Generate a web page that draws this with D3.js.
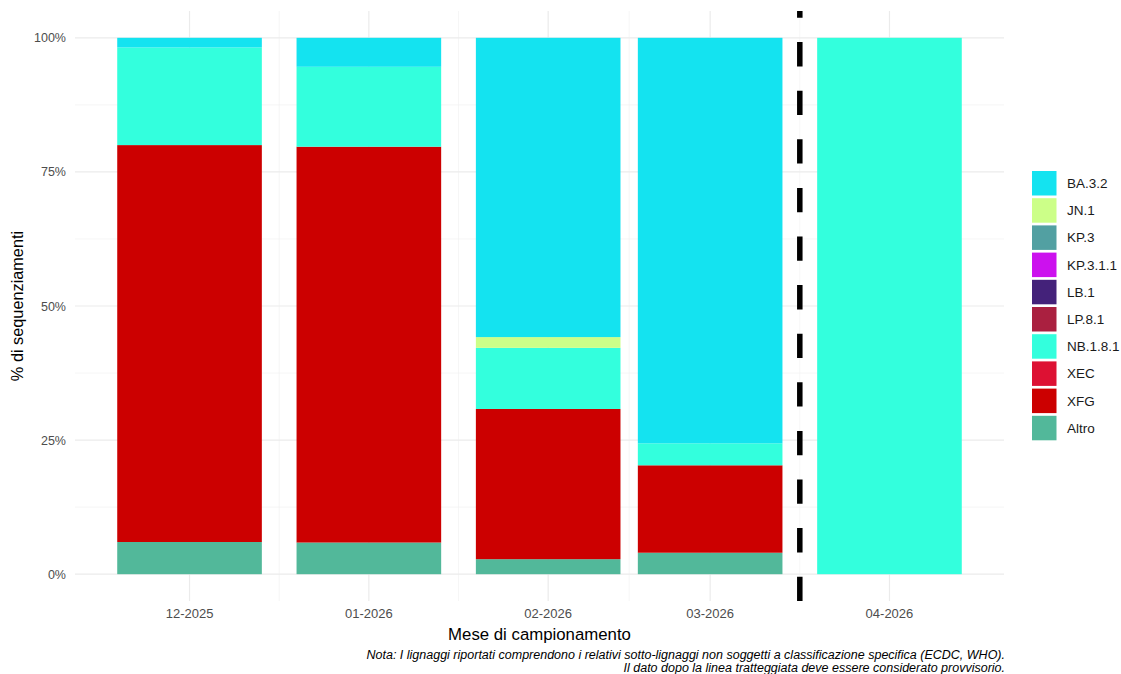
<!DOCTYPE html>
<html>
<head>
<meta charset="utf-8">
<script src="https://cdn.jsdelivr.net/npm/d3@7"></script>
<style>
  body { margin: 0; background: #fff; }
  svg text { font-family: "Liberation Sans", Arial, sans-serif; }
</style>
</head>
<body>
<script>
"use strict";

// months of sampling (first day of month)
var months = ["2025-12-01", "2026-01-01", "2026-02-01", "2026-03-01", "2026-04-01"];

// lineages, in legend order
var lineages = ["BA.3.2", "JN.1", "KP.3", "KP.3.1.1", "LB.1", "LP.8.1", "NB.1.8.1", "XEC", "XFG", "Altro"];
var lineageColors = ["#14e3f0", "#ccff88", "#52a0a2", "#cc11ee", "#44227a", "#aa2040", "#33ffdd", "#dd1133", "#cc0000", "#52b89a"];

// % of sequencing per month
var pctBA32   = [1.8, 5.4, 55.8, 75.6, 0];
var pctJN1    = [0, 0, 2.0, 0, 0];
var pctKP3    = [0, 0, 0, 0, 0];
var pctKP311  = [0, 0, 0, 0, 0];
var pctLB1    = [0, 0, 0, 0, 0];
var pctLP81   = [0, 0, 0, 0, 0];
var pctNB181  = [18.2, 14.9, 11.4, 4.1, 100];
var pctXEC    = [0, 0, 0, 0, 0];
var pctXFG    = [74.0, 73.8, 28.0, 16.3, 0];
var pctAltro  = [6.0, 5.9, 2.8, 4.0, 0];

var yTicks = [0, 0.25, 0.5, 0.75, 1];
var yMinor = [0.125, 0.375, 0.625, 0.875];

// data after this date is provisional
var provisionalAfter = "2026-03-16T12:00:00Z";

var caption = [
    "Nota: I lignaggi riportati comprendono i relativi sotto-lignaggi non soggetti a classificazione specifica (ECDC, WHO).",
    "Il dato dopo la linea tratteggiata deve essere considerato provvisorio."
];

function main(){
    var W = 1121, H = 674;
    var panel = {left: 75, right: 1004, top: 11, bottom: 601};
    var barDays = 25;
    var dayMs = 86400000;

    var byLineage = {
        "BA.3.2": pctBA32, "JN.1": pctJN1, "KP.3": pctKP3, "KP.3.1.1": pctKP311, "LB.1": pctLB1,
        "LP.8.1": pctLP81, "NB.1.8.1": pctNB181, "XEC": pctXEC, "XFG": pctXFG, "Altro": pctAltro
    };
    var dates = months.map(function(m){ return new Date(m + "T00:00:00Z"); });
    var rows = dates.map(function(d, i){
        var r = {date: d};
        lineages.forEach(function(l){ r[l] = byLineage[l][i] / 100; });
        return r;
    });

    var svg = d3.select("body").append("svg").attr("width", W).attr("height", H);

    // time axis, bars 25 days wide, 5% expansion like ggplot
    var lo = +dates[0] - barDays / 2 * dayMs, hi = +dates[dates.length - 1] + barDays / 2 * dayMs;
    var pad = (hi - lo) * 0.05;
    var x = d3.scaleUtc().domain([new Date(lo - pad), new Date(hi + pad)]).range([panel.left, panel.right]);
    var y = d3.scaleLinear().domain([-0.05, 1.05]).range([panel.bottom, panel.top]);
    var color = d3.scaleOrdinal().domain(lineages).range(lineageColors);

    // grid
    var grid = svg.append("g");
    var xMinor = [];
    for (var i = 0; i < dates.length - 1; i++) xMinor.push(new Date((+dates[i] + +dates[i + 1]) / 2));
    grid.selectAll(".hmin").data(yMinor).enter().append("line")
        .attr("x1", panel.left).attr("x2", panel.right)
        .attr("y1", function(d){ return y(d); }).attr("y2", function(d){ return y(d); })
        .attr("stroke", "#f0f0f0").attr("stroke-width", 0.6);
    grid.selectAll(".vmin").data(xMinor).enter().append("line")
        .attr("x1", function(d){ return x(d); }).attr("x2", function(d){ return x(d); })
        .attr("y1", panel.top).attr("y2", panel.bottom)
        .attr("stroke", "#f0f0f0").attr("stroke-width", 0.6);
    grid.selectAll(".hmaj").data(yTicks).enter().append("line")
        .attr("x1", panel.left).attr("x2", panel.right)
        .attr("y1", function(d){ return y(d); }).attr("y2", function(d){ return y(d); })
        .attr("stroke", "#ebebeb").attr("stroke-width", 1.2);
    grid.selectAll(".vmaj").data(dates).enter().append("line")
        .attr("x1", function(d){ return x(d); }).attr("x2", function(d){ return x(d); })
        .attr("y1", panel.top).attr("y2", panel.bottom)
        .attr("stroke", "#ebebeb").attr("stroke-width", 1.2);

    // stacked bars (Altro at the bottom)
    var stack = d3.stack().keys(lineages.slice().reverse());
    var series = stack(rows);
    var halfBar = barDays / 2 * dayMs;
    svg.append("g").selectAll("g").data(series).enter().append("g")
        .attr("fill", function(s){ return color(s.key); })
        .selectAll("rect").data(function(s){ return s; }).enter().append("rect")
        .attr("x", function(d){ return x(new Date(+d.data.date - halfBar)); })
        .attr("width", function(d){ return x(new Date(+d.data.date + halfBar)) - x(new Date(+d.data.date - halfBar)); })
        .attr("y", function(d){ return y(d[1]); })
        .attr("height", function(d){ return y(d[0]) - y(d[1]); });

    // provisional line
    var px = x(new Date(provisionalAfter));
    svg.append("line")
        .attr("x1", px).attr("x2", px).attr("y1", panel.bottom).attr("y2", panel.top)
        .attr("stroke", "#000").attr("stroke-width", 5.5)
        .attr("stroke-dasharray", "24.3,24.3");

    // axes labels
    var fmt = d3.utcFormat("%m-%Y");
    svg.append("g").selectAll("text").data(dates).enter().append("text")
        .attr("x", function(d){ return x(d); }).attr("y", 618)
        .attr("text-anchor", "middle").attr("font-size", 13).attr("fill", "#4d4d4d")
        .text(fmt);
    svg.append("g").selectAll("text").data(yTicks).enter().append("text")
        .attr("x", 66).attr("y", function(d){ return y(d) + 4.5; })
        .attr("text-anchor", "end").attr("font-size", 12.5).attr("fill", "#4d4d4d")
        .text(d3.format(".0%"));

    svg.append("text").attr("x", (panel.left + panel.right) / 2).attr("y", 639.5)
        .attr("text-anchor", "middle").attr("font-size", 16.8).attr("fill", "#000")
        .text("Mese di campionamento");
    svg.append("text")
        .attr("transform", "translate(23," + ((panel.top + panel.bottom) / 2) + ") rotate(-90)")
        .attr("text-anchor", "middle").attr("font-size", 16.3).attr("fill", "#000")
        .text("% di sequenziamenti");

    // caption
    svg.append("g").selectAll("text").data(caption).enter().append("text")
        .attr("x", panel.right + 1).attr("y", function(d, i){ return 658.5 + i * 13; })
        .attr("text-anchor", "end").attr("font-size", 12.5).attr("font-style", "italic").attr("fill", "#000")
        .text(function(d){ return d; });

    // legend
    var legend = svg.append("g").attr("transform", "translate(1032,171)");
    var item = legend.selectAll("g").data(lineages).enter().append("g")
        .attr("transform", function(d, i){ return "translate(0," + (i * 27.2) + ")"; });
    item.append("rect").attr("width", 24.5).attr("height", 24.5)
        .attr("fill", function(d){ return color(d); });
    item.append("text").attr("x", 35).attr("y", 17)
        .attr("font-size", 13.5).attr("fill", "#1a1a1a")
        .text(function(d){ return d; });
}

main();
</script>
</body>
</html>
